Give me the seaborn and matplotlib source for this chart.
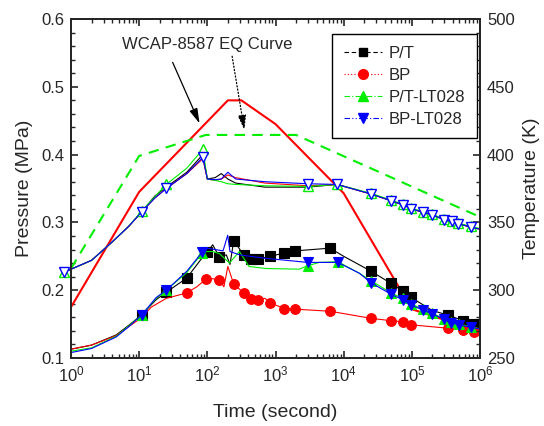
import matplotlib
matplotlib.use("Agg")
import matplotlib.pyplot as plt
from matplotlib.lines import Line2D
from matplotlib.ticker import MultipleLocator, LogLocator, NullFormatter
import seaborn as sns

# ---- pressure histories (left axis, MPa) ----
pt_time = [1, 2, 4.6, 7.2, 11, 17.7, 25, 50, 80, 100, 120, 150, 190, 215, 244, 342, 437, 550,
           842, 1350, 1940, 6300, 10000, 25200, 49600, 73000, 97000, 200000, 335000, 569000, 825000, 1e6]
pt_p = [0.113, 0.119, 0.134, 0.149, 0.164, 0.186, 0.197, 0.218, 0.245, 0.257, 0.267, 0.249, 0.252, 0.238,
        0.273, 0.252, 0.246, 0.246, 0.250, 0.255, 0.258, 0.262, 0.250, 0.228, 0.210, 0.199, 0.1895,
        0.170, 0.1634, 0.155, 0.150, 0.148]
pt_marks = [4, 6, 7, 9, 11, 14, 15, 16, 17, 18, 19, 20, 21, 23, 24, 25, 26, 28, 29, 30]

bp_time = [1, 2, 4.6, 7.2, 11, 15, 25, 50, 70, 95, 120, 150, 175, 200, 244, 342, 437, 550, 700, 842,
           1350, 1940, 6300, 25200, 49600, 73000, 97000, 335000, 569000, 825000, 1e6]
bp_p = [0.113, 0.119, 0.133, 0.147, 0.160, 0.175, 0.188, 0.196, 0.205, 0.216, 0.217, 0.215, 0.205, 0.235,
        0.209, 0.196, 0.187, 0.186, 0.188, 0.181, 0.173, 0.172, 0.169, 0.1585, 0.155, 0.1535, 0.149,
        0.144, 0.141, 0.139, 0.138]
bp_marks = [7, 9, 11, 14, 15, 16, 17, 19, 20, 21, 22, 23, 24, 25, 26, 27, 28, 29]

ptlt_time = [1, 2, 4.6, 7.2, 11, 17.7, 25, 50, 84, 100, 120, 150, 211, 295, 410, 725, 2230, 2960, 4400,
             8200, 17000, 25200, 49600, 73000, 97000, 144000, 200000, 294000, 380000, 495000, 740000, 1e6]
ptlt_p = [0.110, 0.115, 0.132, 0.148, 0.164, 0.188, 0.200, 0.226, 0.255, 0.257, 0.257, 0.254, 0.240,
          0.257, 0.235, 0.232, 0.231, 0.236, 0.241, 0.242, 0.225, 0.214, 0.196, 0.188, 0.180, 0.172,
          0.166, 0.158, 0.153, 0.150, 0.146, 0.143]
ptlt_marks = [4, 6, 8, 17, 19, 21, 22, 23, 24, 25, 26, 27, 28, 29, 30]

bplt_time = [1, 2, 4.6, 7.2, 11, 17.7, 25, 50, 84, 100, 130, 170, 199, 215, 300, 725, 2960, 8200, 17000,
             25200, 49600, 73000, 97000, 144000, 200000, 294000, 380000, 495000, 740000, 1e6]
bplt_p = [0.108, 0.114, 0.131, 0.147, 0.164, 0.189, 0.200, 0.228, 0.256, 0.262, 0.260, 0.258, 0.281,
          0.257, 0.252, 0.247, 0.241, 0.241, 0.225, 0.211, 0.194, 0.186, 0.178, 0.171, 0.165, 0.1575,
          0.152, 0.149, 0.145, 0.143]
bplt_marks = [4, 6, 8, 16, 17, 19, 20, 21, 22, 23, 24, 25, 26, 27, 28]

# ---- temperature histories (right axis, K) ----
temp_time = [0.8, 2, 4, 7, 11, 17, 25, 50, 86, 100, 130, 160, 200, 260, 700, 3000, 8000, 25000, 49500,
             73000, 98000, 145000, 200000, 295000, 383000, 480000, 740000, 1e6]
temp_marks = [0, 4, 6, 8, 15, 16, 17, 18, 19, 20, 21, 22, 23, 24, 25, 26]
pt_temp = [313.4, 322, 335.5, 347, 358, 369.5, 376, 387, 400, 382, 383, 386, 382, 379, 376, 376, 378,
           371, 366, 363, 360, 357.5, 355.6, 352, 350.7, 349, 346.5, 345]
bp_temp = [313.4, 322, 335.5, 347, 358, 368, 375, 386, 397, 382, 381, 382, 385, 383, 379, 377, 378,
           371, 366, 363, 360, 357.5, 355.6, 352, 350.7, 349, 346.5, 345]
ptlt_temp = [313.4, 322, 335.5, 347, 358.5, 369, 378, 390, 404, 382, 381, 380, 378.5, 378, 377, 376.5,
             378, 371.5, 366.5, 363.5, 360.5, 358, 356, 352.5, 351, 349.5, 347, 345.5]
bplt_temp = [313.4, 322, 335.5, 347, 358, 368, 375, 386, 398, 382, 381.5, 382, 387, 382, 380, 378.5,
             378, 371, 366, 363, 360, 357.5, 355.6, 352, 350.7, 349, 346.5, 345]

# ---- WCAP-8587 EQ envelopes ----
eqp_time = [1, 10, 200, 316, 1000, 10000, 100000, 1e6]
eqp_p = [0.175, 0.345, 0.48, 0.48, 0.445, 0.343, 0.172, 0.139]
eqt_time = [1, 10, 95, 2000, 1e6]
eqt_temp = [316, 399, 414.5, 414.5, 354]

labels = ["P/T", "BP", "P/T-LT028", "BP-LT028"]
colors = ["black", "#ff0000", "#00ee00", "#0000ff"]
markers = ["s", "o", "^", "v"]
msizes = [6.5, 7, 7.5, 7.5]

sns.set_style("ticks")
plt.rcParams["font.family"] = ["Liberation Sans", "DejaVu Sans"]
plt.rcParams["mathtext.fontset"] = "custom"
plt.rcParams["mathtext.rm"] = "Liberation Sans"
plt.rcParams["mathtext.default"] = "regular"

fig = plt.figure(figsize=(5.44, 4.26), dpi=100)
ax = fig.add_axes([71 / 544, 68 / 426, 409 / 544, 339 / 426])
ax.set_xscale("log")
ax.set_xlim(1, 1e6)
ax.set_ylim(0.1, 0.6)
ax2 = ax.twinx()
ax2.set_ylim(250, 500)

# EQ curves
sns.lineplot(x=eqp_time, y=eqp_p, ax=ax, color="#ff0000", lw=1.5, estimator=None, sort=False)
sns.lineplot(x=eqt_time, y=eqt_temp, ax=ax2, color="#00ee00", lw=1.5, estimator=None, sort=False,
             dashes=False, linestyle=(0, (5, 3.5)))

# pressure curves
p_series = [(pt_time, pt_p, pt_marks), (bp_time, bp_p, bp_marks),
            (ptlt_time, ptlt_p, ptlt_marks), (bplt_time, bplt_p, bplt_marks)]
for (tt, pp, mk), c, m, ms in zip(p_series, colors, markers, msizes):
    sns.lineplot(x=tt, y=pp, ax=ax, color=c, lw=0.8, marker=m, markersize=ms, markevery=mk,
                 markerfacecolor=c, markeredgecolor=c, markeredgewidth=0.8,
                 estimator=None, sort=False)

# temperature curves
t_series = [pt_temp, bp_temp, ptlt_temp, bplt_temp]
for i, (tv, c) in enumerate(zip(t_series, colors)):
    kw = {}
    if i >= 2:
        kw = dict(marker=markers[i], markersize=msizes[i], markevery=temp_marks,
                  markerfacecolor="white", markeredgecolor=c, markeredgewidth=1.0)
    sns.lineplot(x=temp_time, y=tv, ax=ax2, color=c, lw=0.8, estimator=None, sort=False,
                 clip_on=False, **kw)

# axes styling
for a in (ax, ax2):
    for s in a.spines.values():
        s.set_linewidth(1.4)
        s.set_visible(True)
ax.yaxis.set_major_locator(MultipleLocator(0.1))
ax.yaxis.set_minor_locator(MultipleLocator(0.02))
ax.yaxis.set_major_formatter(plt.FormatStrFormatter("%.1f"))
ax2.yaxis.set_major_locator(MultipleLocator(50))
ax2.yaxis.set_minor_locator(MultipleLocator(10))
ax.xaxis.set_major_locator(LogLocator(base=10, numticks=10))
ax.xaxis.set_minor_locator(LogLocator(base=10, subs=range(2, 10), numticks=20))
ax.xaxis.set_minor_formatter(NullFormatter())
ax.tick_params(axis="both", which="major", direction="in", length=5, width=1.2, labelsize=12,
               top=True, right=False, pad=5)
ax.tick_params(axis="both", which="minor", direction="in", length=3, width=1.0, top=True, right=False)
ax2.tick_params(axis="y", which="major", direction="in", length=5, width=1.2, labelsize=12, pad=5)
ax2.tick_params(axis="y", which="minor", direction="in", length=3, width=1.0)

ax.set_xlabel("Time (second)", fontsize=14, labelpad=14)
ax.set_ylabel("Pressure (MPa)", fontsize=14, labelpad=6)
ax2.set_ylabel("Temperature (K)", fontsize=14, labelpad=6)

# annotation
ax.text(100, 0.562, "WCAP-8587 EQ Curve", ha="center", va="center", fontsize=12)
ax.annotate("", xy=(77, 0.446), xytext=(31, 0.536),
            arrowprops=dict(arrowstyle="-|>,head_length=0.9,head_width=0.25", color="black", lw=0.9,
                            shrinkA=0, shrinkB=0))
ax.annotate("", xy=(350, 0.436), xytext=(231, 0.545),
            arrowprops=dict(arrowstyle="-|>,head_length=0.9,head_width=0.25", color="black", lw=0.9,
                            linestyle=":", shrinkA=0, shrinkB=0))

# legend
handles = [
    Line2D([], [], color=colors[0], lw=0.8, ls=(0, (4, 2.5)), marker="s", ms=6, mfc=colors[0], mec=colors[0]),
    Line2D([], [], color=colors[1], lw=0.8, ls=(0, (1, 2)), marker="o", ms=7, mfc=colors[1], mec=colors[1]),
    Line2D([], [], color=colors[2], lw=0.8, ls=(0, (5, 2, 1, 2)), marker="^", ms=7, mfc=colors[2], mec=colors[2]),
    Line2D([], [], color=colors[3], lw=0.8, ls=(0, (5, 2, 1, 2, 1, 2)), marker="v", ms=7, mfc=colors[3], mec=colors[3]),
]
leg = ax2.legend(handles, labels, loc="upper left", bbox_to_anchor=((332 - 71) / 409, (358 - 34) / 339),
                 fontsize=12, frameon=True, fancybox=False, edgecolor="black", framealpha=1,
                 handlelength=2.3, handletextpad=0.4, labelspacing=0.42, borderpad=0.7, borderaxespad=0)
leg.get_frame().set_linewidth(1.0)

fig.savefig("out.png", dpi=100)
